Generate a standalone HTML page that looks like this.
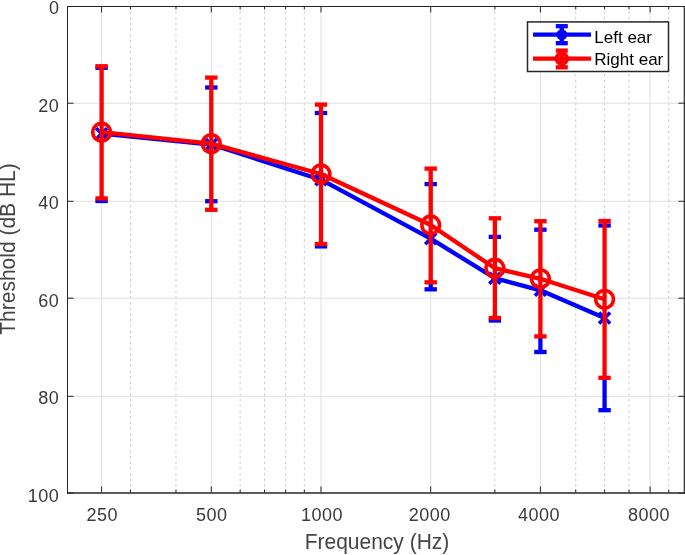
<!DOCTYPE html><html><head><meta charset="utf-8"><style>html,body{margin:0;padding:0;background:#fff;overflow:hidden;}svg{display:block;will-change:transform;}text{font-family:"Liberation Sans",sans-serif;}</style></head><body>
<svg width="685" height="555" viewBox="0 0 685 555">
<rect x="0" y="0" width="685" height="555" fill="#fff"/>
<line x1="130.45" y1="6.5" x2="130.45" y2="492.5" stroke="#cccccc" stroke-width="1" stroke-dasharray="2.6 3.1" stroke-dashoffset="1.0"/>
<line x1="175.98" y1="6.5" x2="175.98" y2="492.5" stroke="#cccccc" stroke-width="1" stroke-dasharray="2.6 3.1" stroke-dashoffset="1.0"/>
<line x1="240.15" y1="6.5" x2="240.15" y2="492.5" stroke="#cccccc" stroke-width="1" stroke-dasharray="2.6 3.1" stroke-dashoffset="1.0"/>
<line x1="264.55" y1="6.5" x2="264.55" y2="492.5" stroke="#cccccc" stroke-width="1" stroke-dasharray="2.6 3.1" stroke-dashoffset="1.0"/>
<line x1="285.68" y1="6.5" x2="285.68" y2="492.5" stroke="#cccccc" stroke-width="1" stroke-dasharray="2.6 3.1" stroke-dashoffset="1.0"/>
<line x1="304.33" y1="6.5" x2="304.33" y2="492.5" stroke="#cccccc" stroke-width="1" stroke-dasharray="2.6 3.1" stroke-dashoffset="1.0"/>
<line x1="494.87" y1="6.5" x2="494.87" y2="492.5" stroke="#cccccc" stroke-width="1" stroke-dasharray="2.6 3.1" stroke-dashoffset="1.0"/>
<line x1="575.72" y1="6.5" x2="575.72" y2="492.5" stroke="#cccccc" stroke-width="1" stroke-dasharray="2.6 3.1" stroke-dashoffset="1.0"/>
<line x1="604.57" y1="6.5" x2="604.57" y2="492.5" stroke="#cccccc" stroke-width="1" stroke-dasharray="2.6 3.1" stroke-dashoffset="1.0"/>
<line x1="628.97" y1="6.5" x2="628.97" y2="492.5" stroke="#cccccc" stroke-width="1" stroke-dasharray="2.6 3.1" stroke-dashoffset="1.0"/>
<line x1="668.74" y1="6.5" x2="668.74" y2="492.5" stroke="#cccccc" stroke-width="1" stroke-dasharray="2.6 3.1" stroke-dashoffset="1.0"/>
<line x1="101.60" y1="6.5" x2="101.60" y2="492.5" stroke="#dfdfdf" stroke-width="1"/>
<line x1="211.30" y1="6.5" x2="211.30" y2="492.5" stroke="#dfdfdf" stroke-width="1"/>
<line x1="321.00" y1="6.5" x2="321.00" y2="492.5" stroke="#dfdfdf" stroke-width="1"/>
<line x1="430.70" y1="6.5" x2="430.70" y2="492.5" stroke="#dfdfdf" stroke-width="1"/>
<line x1="540.40" y1="6.5" x2="540.40" y2="492.5" stroke="#dfdfdf" stroke-width="1"/>
<line x1="650.10" y1="6.5" x2="650.10" y2="492.5" stroke="#dfdfdf" stroke-width="1"/>
<line x1="67.5" y1="103.2" x2="684.5" y2="103.2" stroke="#dfdfdf" stroke-width="1"/>
<line x1="67.5" y1="201.3" x2="684.5" y2="201.3" stroke="#dfdfdf" stroke-width="1"/>
<line x1="67.5" y1="298.2" x2="684.5" y2="298.2" stroke="#dfdfdf" stroke-width="1"/>
<line x1="67.5" y1="396.3" x2="684.5" y2="396.3" stroke="#dfdfdf" stroke-width="1"/>
<line x1="101.60" y1="67.80" x2="101.60" y2="198.40" stroke="#0000ff" stroke-width="2.9"/>
<line x1="101.60" y1="198.40" x2="101.60" y2="201.00" stroke="#0000ff" stroke-width="4.3"/>
<line x1="95.40" y1="67.80" x2="107.80" y2="67.80" stroke="#0000ff" stroke-width="4.3"/>
<line x1="95.40" y1="201.00" x2="107.80" y2="201.00" stroke="#0000ff" stroke-width="4.3"/>
<line x1="211.30" y1="87.50" x2="211.30" y2="201.20" stroke="#0000ff" stroke-width="2.9"/>
<line x1="205.10" y1="87.50" x2="217.50" y2="87.50" stroke="#0000ff" stroke-width="4.3"/>
<line x1="205.10" y1="201.20" x2="217.50" y2="201.20" stroke="#0000ff" stroke-width="4.3"/>
<line x1="321.00" y1="113.00" x2="321.00" y2="244.00" stroke="#0000ff" stroke-width="2.9"/>
<line x1="321.00" y1="244.00" x2="321.00" y2="246.40" stroke="#0000ff" stroke-width="4.3"/>
<line x1="314.80" y1="113.00" x2="327.20" y2="113.00" stroke="#0000ff" stroke-width="4.3"/>
<line x1="314.80" y1="246.40" x2="327.20" y2="246.40" stroke="#0000ff" stroke-width="4.3"/>
<line x1="430.70" y1="184.10" x2="430.70" y2="282.30" stroke="#0000ff" stroke-width="2.9"/>
<line x1="430.70" y1="282.30" x2="430.70" y2="289.30" stroke="#0000ff" stroke-width="4.3"/>
<line x1="424.50" y1="184.10" x2="436.90" y2="184.10" stroke="#0000ff" stroke-width="4.3"/>
<line x1="424.50" y1="289.30" x2="436.90" y2="289.30" stroke="#0000ff" stroke-width="4.3"/>
<line x1="494.87" y1="236.90" x2="494.87" y2="318.00" stroke="#0000ff" stroke-width="2.9"/>
<line x1="494.87" y1="318.00" x2="494.87" y2="320.50" stroke="#0000ff" stroke-width="4.3"/>
<line x1="488.67" y1="236.90" x2="501.07" y2="236.90" stroke="#0000ff" stroke-width="4.3"/>
<line x1="488.67" y1="320.50" x2="501.07" y2="320.50" stroke="#0000ff" stroke-width="4.3"/>
<line x1="540.40" y1="229.70" x2="540.40" y2="336.40" stroke="#0000ff" stroke-width="2.9"/>
<line x1="540.40" y1="336.40" x2="540.40" y2="352.00" stroke="#0000ff" stroke-width="4.3"/>
<line x1="534.20" y1="229.70" x2="546.60" y2="229.70" stroke="#0000ff" stroke-width="4.3"/>
<line x1="534.20" y1="352.00" x2="546.60" y2="352.00" stroke="#0000ff" stroke-width="4.3"/>
<line x1="604.57" y1="225.50" x2="604.57" y2="377.80" stroke="#0000ff" stroke-width="2.9"/>
<line x1="604.57" y1="377.80" x2="604.57" y2="410.20" stroke="#0000ff" stroke-width="4.3"/>
<line x1="598.37" y1="225.50" x2="610.77" y2="225.50" stroke="#0000ff" stroke-width="4.3"/>
<line x1="598.37" y1="410.20" x2="610.77" y2="410.20" stroke="#0000ff" stroke-width="4.3"/>
<polyline points="101.60,133.70 211.30,144.50 321.00,179.70 430.70,238.70 494.87,278.20 540.40,290.30 604.57,318.00" fill="none" stroke="#0000ff" stroke-width="4.3" stroke-linejoin="round"/>
<path d="M96.10,128.20L107.10,139.20M96.10,139.20L107.10,128.20" stroke="#0000ff" stroke-width="3.6" fill="none"/>
<path d="M205.80,139.00L216.80,150.00M205.80,150.00L216.80,139.00" stroke="#0000ff" stroke-width="3.6" fill="none"/>
<path d="M315.50,174.20L326.50,185.20M315.50,185.20L326.50,174.20" stroke="#0000ff" stroke-width="3.6" fill="none"/>
<path d="M425.20,233.20L436.20,244.20M425.20,244.20L436.20,233.20" stroke="#0000ff" stroke-width="3.6" fill="none"/>
<path d="M489.37,272.70L500.37,283.70M489.37,283.70L500.37,272.70" stroke="#0000ff" stroke-width="3.6" fill="none"/>
<path d="M534.90,284.80L545.90,295.80M534.90,295.80L545.90,284.80" stroke="#0000ff" stroke-width="3.6" fill="none"/>
<path d="M599.07,312.50L610.07,323.50M599.07,323.50L610.07,312.50" stroke="#0000ff" stroke-width="3.6" fill="none"/>
<line x1="101.60" y1="66.25" x2="101.60" y2="198.40" stroke="#ff0000" stroke-width="4.3"/>
<line x1="95.40" y1="66.25" x2="107.80" y2="66.25" stroke="#ff0000" stroke-width="4.3"/>
<line x1="95.40" y1="198.40" x2="107.80" y2="198.40" stroke="#ff0000" stroke-width="4.3"/>
<line x1="211.30" y1="77.60" x2="211.30" y2="209.80" stroke="#ff0000" stroke-width="4.3"/>
<line x1="205.10" y1="77.60" x2="217.50" y2="77.60" stroke="#ff0000" stroke-width="4.3"/>
<line x1="205.10" y1="209.80" x2="217.50" y2="209.80" stroke="#ff0000" stroke-width="4.3"/>
<line x1="321.00" y1="104.60" x2="321.00" y2="244.00" stroke="#ff0000" stroke-width="4.3"/>
<line x1="314.80" y1="104.60" x2="327.20" y2="104.60" stroke="#ff0000" stroke-width="4.3"/>
<line x1="314.80" y1="244.00" x2="327.20" y2="244.00" stroke="#ff0000" stroke-width="4.3"/>
<line x1="430.70" y1="168.60" x2="430.70" y2="282.30" stroke="#ff0000" stroke-width="4.3"/>
<line x1="424.50" y1="168.60" x2="436.90" y2="168.60" stroke="#ff0000" stroke-width="4.3"/>
<line x1="424.50" y1="282.30" x2="436.90" y2="282.30" stroke="#ff0000" stroke-width="4.3"/>
<line x1="494.87" y1="218.30" x2="494.87" y2="318.00" stroke="#ff0000" stroke-width="4.3"/>
<line x1="488.67" y1="218.30" x2="501.07" y2="218.30" stroke="#ff0000" stroke-width="4.3"/>
<line x1="488.67" y1="318.00" x2="501.07" y2="318.00" stroke="#ff0000" stroke-width="4.3"/>
<line x1="540.40" y1="221.20" x2="540.40" y2="336.40" stroke="#ff0000" stroke-width="4.3"/>
<line x1="534.20" y1="221.20" x2="546.60" y2="221.20" stroke="#ff0000" stroke-width="4.3"/>
<line x1="534.20" y1="336.40" x2="546.60" y2="336.40" stroke="#ff0000" stroke-width="4.3"/>
<line x1="604.57" y1="221.00" x2="604.57" y2="377.80" stroke="#ff0000" stroke-width="4.3"/>
<line x1="598.37" y1="221.00" x2="610.77" y2="221.00" stroke="#ff0000" stroke-width="4.3"/>
<line x1="598.37" y1="377.80" x2="610.77" y2="377.80" stroke="#ff0000" stroke-width="4.3"/>
<polyline points="101.60,132.20 211.30,143.60 321.00,174.00 430.70,225.00 494.87,268.20 540.40,278.80 604.57,299.30" fill="none" stroke="#ff0000" stroke-width="4.3" stroke-linejoin="round"/>
<circle cx="101.60" cy="132.20" r="8.85" stroke="#ff0000" stroke-width="3.6" fill="none"/>
<circle cx="211.30" cy="143.60" r="8.85" stroke="#ff0000" stroke-width="3.6" fill="none"/>
<circle cx="321.00" cy="174.00" r="8.85" stroke="#ff0000" stroke-width="3.6" fill="none"/>
<circle cx="430.70" cy="225.00" r="8.85" stroke="#ff0000" stroke-width="3.6" fill="none"/>
<circle cx="494.87" cy="268.20" r="8.85" stroke="#ff0000" stroke-width="3.6" fill="none"/>
<circle cx="540.40" cy="278.80" r="8.85" stroke="#ff0000" stroke-width="3.6" fill="none"/>
<circle cx="604.57" cy="299.30" r="8.85" stroke="#ff0000" stroke-width="3.6" fill="none"/>
<line x1="67.5" y1="6" x2="67.5" y2="493.6" stroke="#262626" stroke-width="1"/>
<line x1="684.3" y1="6" x2="684.3" y2="493.6" stroke="#262626" stroke-width="1.2"/>
<line x1="67" y1="6.5" x2="685" y2="6.5" stroke="#262626" stroke-width="1"/>
<line x1="67" y1="493" x2="685" y2="493" stroke="#262626" stroke-width="1.3"/>
<line x1="101.60" y1="492.5" x2="101.60" y2="486.5" stroke="#262626" stroke-width="1"/>
<line x1="101.60" y1="6.5" x2="101.60" y2="12.5" stroke="#262626" stroke-width="1"/>
<line x1="211.30" y1="492.5" x2="211.30" y2="486.5" stroke="#262626" stroke-width="1"/>
<line x1="211.30" y1="6.5" x2="211.30" y2="12.5" stroke="#262626" stroke-width="1"/>
<line x1="321.00" y1="492.5" x2="321.00" y2="486.5" stroke="#262626" stroke-width="1"/>
<line x1="321.00" y1="6.5" x2="321.00" y2="12.5" stroke="#262626" stroke-width="1"/>
<line x1="430.70" y1="492.5" x2="430.70" y2="486.5" stroke="#262626" stroke-width="1"/>
<line x1="430.70" y1="6.5" x2="430.70" y2="12.5" stroke="#262626" stroke-width="1"/>
<line x1="540.40" y1="492.5" x2="540.40" y2="486.5" stroke="#262626" stroke-width="1"/>
<line x1="540.40" y1="6.5" x2="540.40" y2="12.5" stroke="#262626" stroke-width="1"/>
<line x1="650.10" y1="492.5" x2="650.10" y2="486.5" stroke="#262626" stroke-width="1"/>
<line x1="650.10" y1="6.5" x2="650.10" y2="12.5" stroke="#262626" stroke-width="1"/>
<line x1="130.45" y1="492.5" x2="130.45" y2="489.5" stroke="#262626" stroke-width="1"/>
<line x1="130.45" y1="6.5" x2="130.45" y2="9.5" stroke="#262626" stroke-width="1"/>
<line x1="175.98" y1="492.5" x2="175.98" y2="489.5" stroke="#262626" stroke-width="1"/>
<line x1="175.98" y1="6.5" x2="175.98" y2="9.5" stroke="#262626" stroke-width="1"/>
<line x1="240.15" y1="492.5" x2="240.15" y2="489.5" stroke="#262626" stroke-width="1"/>
<line x1="240.15" y1="6.5" x2="240.15" y2="9.5" stroke="#262626" stroke-width="1"/>
<line x1="264.55" y1="492.5" x2="264.55" y2="489.5" stroke="#262626" stroke-width="1"/>
<line x1="264.55" y1="6.5" x2="264.55" y2="9.5" stroke="#262626" stroke-width="1"/>
<line x1="285.68" y1="492.5" x2="285.68" y2="489.5" stroke="#262626" stroke-width="1"/>
<line x1="285.68" y1="6.5" x2="285.68" y2="9.5" stroke="#262626" stroke-width="1"/>
<line x1="304.33" y1="492.5" x2="304.33" y2="489.5" stroke="#262626" stroke-width="1"/>
<line x1="304.33" y1="6.5" x2="304.33" y2="9.5" stroke="#262626" stroke-width="1"/>
<line x1="494.87" y1="492.5" x2="494.87" y2="489.5" stroke="#262626" stroke-width="1"/>
<line x1="494.87" y1="6.5" x2="494.87" y2="9.5" stroke="#262626" stroke-width="1"/>
<line x1="575.72" y1="492.5" x2="575.72" y2="489.5" stroke="#262626" stroke-width="1"/>
<line x1="575.72" y1="6.5" x2="575.72" y2="9.5" stroke="#262626" stroke-width="1"/>
<line x1="604.57" y1="492.5" x2="604.57" y2="489.5" stroke="#262626" stroke-width="1"/>
<line x1="604.57" y1="6.5" x2="604.57" y2="9.5" stroke="#262626" stroke-width="1"/>
<line x1="628.97" y1="492.5" x2="628.97" y2="489.5" stroke="#262626" stroke-width="1"/>
<line x1="628.97" y1="6.5" x2="628.97" y2="9.5" stroke="#262626" stroke-width="1"/>
<line x1="668.74" y1="492.5" x2="668.74" y2="489.5" stroke="#262626" stroke-width="1"/>
<line x1="668.74" y1="6.5" x2="668.74" y2="9.5" stroke="#262626" stroke-width="1"/>
<line x1="67.5" y1="6.5" x2="73.5" y2="6.5" stroke="#262626" stroke-width="1"/>
<line x1="684.5" y1="6.5" x2="678.5" y2="6.5" stroke="#262626" stroke-width="1"/>
<line x1="67.5" y1="103.2" x2="73.5" y2="103.2" stroke="#262626" stroke-width="1"/>
<line x1="684.5" y1="103.2" x2="678.5" y2="103.2" stroke="#262626" stroke-width="1"/>
<line x1="67.5" y1="201.3" x2="73.5" y2="201.3" stroke="#262626" stroke-width="1"/>
<line x1="684.5" y1="201.3" x2="678.5" y2="201.3" stroke="#262626" stroke-width="1"/>
<line x1="67.5" y1="298.2" x2="73.5" y2="298.2" stroke="#262626" stroke-width="1"/>
<line x1="684.5" y1="298.2" x2="678.5" y2="298.2" stroke="#262626" stroke-width="1"/>
<line x1="67.5" y1="396.3" x2="73.5" y2="396.3" stroke="#262626" stroke-width="1"/>
<line x1="684.5" y1="396.3" x2="678.5" y2="396.3" stroke="#262626" stroke-width="1"/>
<line x1="67.5" y1="493" x2="73.5" y2="493" stroke="#262626" stroke-width="1"/>
<line x1="684.5" y1="493" x2="678.5" y2="493" stroke="#262626" stroke-width="1"/>
<text x="59.4" y="14" font-size="18" text-anchor="end" letter-spacing="0.5" fill="#3a3a3a">0</text>
<text x="59.4" y="112" font-size="18" text-anchor="end" letter-spacing="0.5" fill="#3a3a3a">20</text>
<text x="59.4" y="209" font-size="18" text-anchor="end" letter-spacing="0.5" fill="#3a3a3a">40</text>
<text x="59.4" y="307" font-size="18" text-anchor="end" letter-spacing="0.5" fill="#3a3a3a">60</text>
<text x="59.4" y="404" font-size="18" text-anchor="end" letter-spacing="0.5" fill="#3a3a3a">80</text>
<text x="59.4" y="502" font-size="18" text-anchor="end" letter-spacing="0.5" fill="#3a3a3a">100</text>
<text x="102.2" y="521" font-size="18" fill="#3a3a3a" text-anchor="middle" letter-spacing="0.5">250</text>
<text x="211.7" y="521" font-size="18" fill="#3a3a3a" text-anchor="middle" letter-spacing="0.5">500</text>
<text x="321.9" y="521" font-size="18" fill="#3a3a3a" text-anchor="middle" letter-spacing="0.5">1000</text>
<text x="429.8" y="521" font-size="18" fill="#3a3a3a" text-anchor="middle" letter-spacing="0.5">2000</text>
<text x="539.0" y="521" font-size="18" fill="#3a3a3a" text-anchor="middle" letter-spacing="0.5">4000</text>
<text x="649.0" y="521" font-size="18" fill="#3a3a3a" text-anchor="middle" letter-spacing="0.5">8000</text>
<text transform="translate(377,549) scale(1,1.045)" x="0" y="0" font-size="21" fill="#444444" text-anchor="middle" letter-spacing="0">Frequency (Hz)</text>
<text transform="translate(15,249) rotate(-90) scale(1,1.045)" x="0" y="0" font-size="21" fill="#444444" text-anchor="middle" letter-spacing="0">Threshold (dB HL)</text>
<rect x="527.5" y="21.9" width="141" height="49.6" fill="#fff" stroke="#262626" stroke-width="1.5"/>
<line x1="533" y1="34.6" x2="591" y2="34.6" stroke="#0000ff" stroke-width="4.3"/>
<line x1="561.8" y1="26.2" x2="561.8" y2="43.2" stroke="#0000ff" stroke-width="4.3"/>
<line x1="555.8" y1="26.2" x2="567.8" y2="26.2" stroke="#0000ff" stroke-width="4.3"/>
<line x1="555.8" y1="43.2" x2="567.8" y2="43.2" stroke="#0000ff" stroke-width="4.3"/>
<circle cx="561.8" cy="34.6" r="5.4" fill="#0000ff"/>
<text x="594.3" y="42.5" font-size="17" fill="#000">Left ear</text>
<line x1="533" y1="58.6" x2="591" y2="58.6" stroke="#ff0000" stroke-width="4.3"/>
<line x1="561.8" y1="50.6" x2="561.8" y2="67.3" stroke="#ff0000" stroke-width="4.3"/>
<line x1="555.8" y1="50.6" x2="567.8" y2="50.6" stroke="#ff0000" stroke-width="4.3"/>
<line x1="555.8" y1="67.3" x2="567.8" y2="67.3" stroke="#ff0000" stroke-width="4.3"/>
<circle cx="561.8" cy="58.6" r="5.3" stroke="#ff0000" stroke-width="4" fill="none"/>
<text x="594.3" y="64.8" font-size="17" fill="#000">Right ear</text>
</svg></body></html>
